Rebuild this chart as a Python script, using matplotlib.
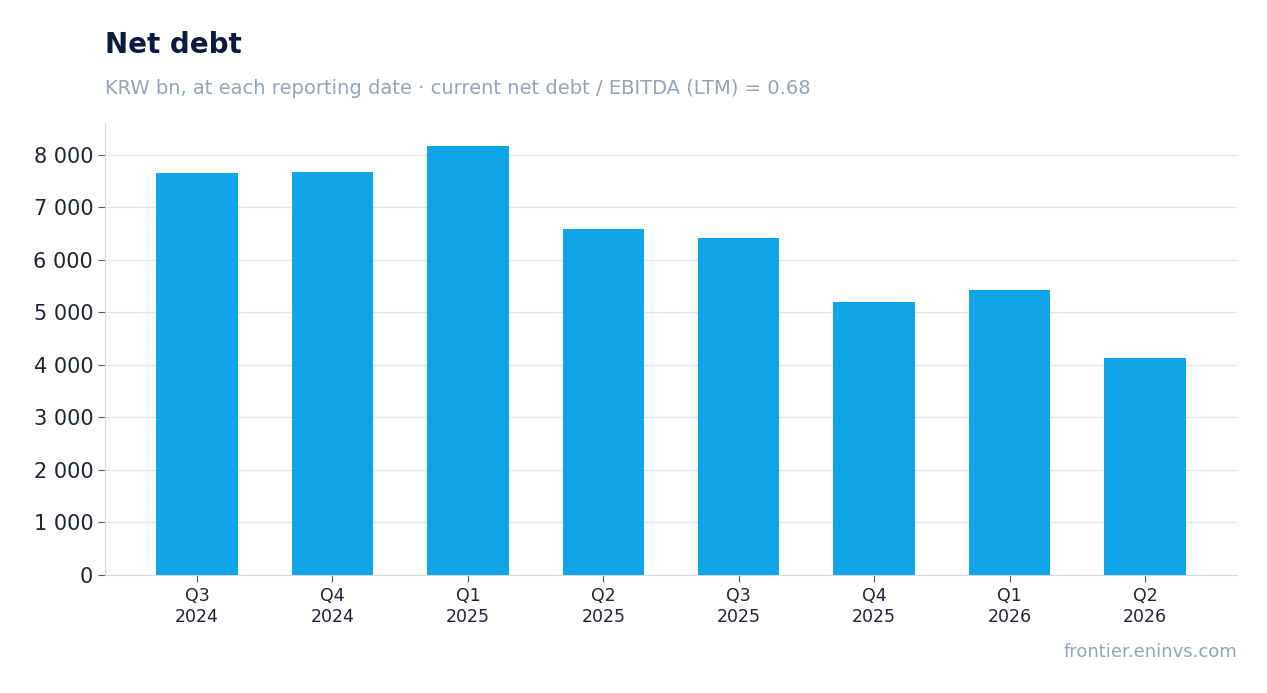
import matplotlib
matplotlib.use("Agg")
import matplotlib.pyplot as plt

quarters = ["Q3\n2024", "Q4\n2024", "Q1\n2025", "Q2\n2025",
            "Q3\n2025", "Q4\n2025", "Q1\n2026", "Q2\n2026"]
net_debt = [7640, 7660, 8170, 6575, 6405, 5190, 5415, 4125]
yticks = [0, 1000, 2000, 3000, 4000, 5000, 6000, 7000, 8000]

INK = "#0b1a3f"
MUTED = "#94a3b8"
BAR = "#10a5e8"
GRID = "#e2e6ee"

fig = plt.figure(figsize=(12.67, 6.93), dpi=100)
ax = fig.add_axes([105 / 1267, 1 - 575 / 693, 1132 / 1267, 452 / 693])

ax.bar(range(len(net_debt)), net_debt, width=0.6, color=BAR, zorder=3)
ax.set_xlim(-0.68, len(net_debt) - 0.32)
ax.set_ylim(0, 8600)
ax.set_yticks(yticks)
ax.set_yticklabels([f"{v:,}".replace(",", " ") for v in yticks],
                   fontsize=15, color="#1f2433")
ax.set_xticks(range(len(quarters)))
ax.set_xticklabels(quarters, fontsize=12.5, color="#1f2433")
ax.grid(axis="y", color=GRID, linewidth=1, zorder=0)
for s in ("top", "right"):
    ax.spines[s].set_visible(False)
for s in ("left", "bottom"):
    ax.spines[s].set_color("#d5d9e2")
ax.tick_params(axis="both", color="#555b66", length=5)

fig.text(105 / 1267, 1 - 45 / 693, "Net debt", fontsize=20, fontweight="bold",
         color=INK, va="center")
fig.text(105 / 1267, 1 - 88 / 693,
         "KRW bn, at each reporting date · current net debt / EBITDA (LTM) = 0.68",
         fontsize=14, color=MUTED, va="center")
fig.text(1237 / 1267, 1 - 652 / 693, "frontier.eninvs.com", fontsize=13,
         color=MUTED, ha="right", va="center")

fig.savefig("out.png", dpi=100)
